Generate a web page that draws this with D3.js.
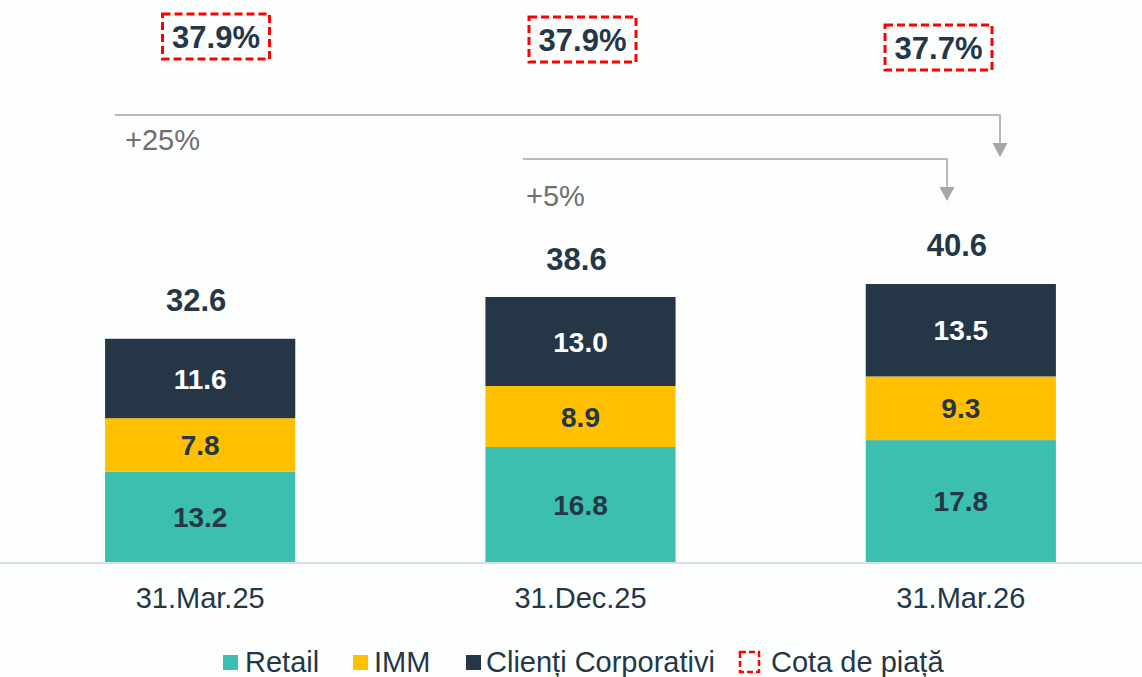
<!DOCTYPE html>
<html>
<head>
<meta charset="utf-8">
<script src="https://cdn.jsdelivr.net/npm/d3@7"></script>
<style>
  body { margin: 0; background: #fcfefe; }
  text { font-family: "Liberation Sans", Arial, sans-serif; }
</style>
</head>
<body>
<div id="chart"></div>
<script>
const categories = ["31.Mar.25", "31.Dec.25", "31.Mar.26"];
const retail = [13.2, 16.8, 17.8];
const imm = [7.8, 8.9, 9.3];
const corporate = [11.6, 13.0, 13.5];
const totals = [32.6, 38.6, 40.6];
const marketShare = ["37.9%", "37.9%", "37.7%"];
const growthLabels = ["+25%", "+5%"];

const seriesNames = ["Retail", "IMM", "Clienți Corporativi"];
const colors = ["#3cbfae", "#ffc000", "#253746"];
const textColors = ["#253746", "#253746", "#ffffff"];

const width = 1142, height = 677;
const baseline = 562;

const svg = d3.select("#chart")
    .append("svg")
    .attr("width", width)
    .attr("height", height);

const x = d3.scaleBand()
    .domain(categories)
    .range([10, 1151])
    .paddingInner(0.5)
    .paddingOuter(0.25);

const y = d3.scaleLinear()
    .domain([0, 40.6])
    .range([baseline, 284]);

// stack the data
const rows = categories.map((c, i) => ({ cat: c, Retail: retail[i], IMM: imm[i], "Clienți Corporativi": corporate[i] }));
const stacked = d3.stack().keys(seriesNames)(rows);

// bars + segment labels
stacked.forEach((layer, li) => {
    const g = svg.append("g");
    g.selectAll("rect")
        .data(layer)
        .enter()
        .append("rect")
        .attr("x", d => x(d.data.cat))
        .attr("y", d => y(d[1]))
        .attr("width", x.bandwidth())
        .attr("height", d => y(d[0]) - y(d[1]))
        .attr("fill", colors[li]);

    g.selectAll("text")
        .data(layer)
        .enter()
        .append("text")
        .attr("x", d => x(d.data.cat) + x.bandwidth() / 2)
        .attr("y", d => (y(d[0]) + y(d[1])) / 2)
        .attr("dy", "0.36em")
        .attr("text-anchor", "middle")
        .attr("font-size", 28)
        .attr("font-weight", "bold")
        .attr("fill", textColors[li])
        .text(d => (d[1] - d[0]).toFixed(1));
});

// totals
svg.selectAll(".total")
    .data(totals)
    .enter()
    .append("text")
    .attr("class", "total")
    .attr("x", (d, i) => x(categories[i]) + x.bandwidth() / 2 - 4)
    .attr("y", d => y(d) - 28)
    .attr("text-anchor", "middle")
    .attr("font-size", 31)
    .attr("font-weight", "bold")
    .attr("fill", "#253746")
    .text(d => d.toFixed(1));

// baseline
svg.append("line")
    .attr("x1", 0).attr("x2", width)
    .attr("y1", baseline + 1).attr("y2", baseline + 1)
    .attr("stroke", "#d6dfe8")
    .attr("stroke-width", 2);

// category axis labels
svg.selectAll(".cat")
    .data(categories)
    .enter()
    .append("text")
    .attr("class", "cat")
    .attr("x", d => x(d) + x.bandwidth() / 2)
    .attr("y", 608)
    .attr("text-anchor", "middle")
    .attr("font-size", 29)
    .attr("fill", "#253746")
    .text(d => d);

// market share boxes
const shareX = [216, 582.5, 938.5];
const shareY = [36.5, 39.5, 47.5];
marketShare.forEach((s, i) => {
    svg.append("rect")
        .attr("x", shareX[i] - 53.5)
        .attr("y", shareY[i] - 22.5)
        .attr("width", 107)
        .attr("height", 45)
        .attr("fill", "none")
        .attr("stroke", "#ff0000")
        .attr("stroke-width", 3)
        .attr("stroke-dasharray", "8,4");
    svg.append("text")
        .attr("x", shareX[i])
        .attr("y", shareY[i])
        .attr("dy", "0.36em")
        .attr("text-anchor", "middle")
        .attr("font-size", 31)
        .attr("font-weight", "bold")
        .attr("fill", "#253746")
        .text(s);
});

// growth arrows
const arrows = [
    { x1: 115, x2: 1000, yTop: 115, yEnd: 157, lx: 125, ly: 150 },
    { x1: 523, x2: 947, yTop: 159, yEnd: 201, lx: 526, ly: 206 }
];
arrows.forEach((a, i) => {
    svg.append("path")
        .attr("d", `M${a.x1},${a.yTop} H${a.x2} V${a.yEnd - 13}`)
        .attr("fill", "none")
        .attr("stroke", "#a6a6a6")
        .attr("stroke-width", 1.6);
    svg.append("path")
        .attr("d", `M${a.x2 - 7.5},${a.yEnd - 14} L${a.x2 + 7.5},${a.yEnd - 14} L${a.x2},${a.yEnd} Z`)
        .attr("fill", "#a6a6a6");
    svg.append("text")
        .attr("x", a.lx)
        .attr("y", a.ly)
        .attr("font-size", 29)
        .attr("fill", "#6f6f6f")
        .text(growthLabels[i]);
});

// legend
const legendItems = [
    { name: "Retail", color: colors[0], x: 223, tx: 245 },
    { name: "IMM", color: colors[1], x: 353, tx: 374 },
    { name: "Clienți Corporativi", color: colors[2], x: 466, tx: 486 },
    { name: "Cota de piață", color: null, x: 740, tx: 771 }
];
legendItems.forEach(d => {
    if (d.color) {
        svg.append("rect")
            .attr("x", d.x).attr("y", 655)
            .attr("width", 15).attr("height", 15)
            .attr("fill", d.color);
    } else {
        svg.append("rect")
            .attr("x", d.x).attr("y", 652)
            .attr("width", 19).attr("height", 20)
            .attr("fill", "none")
            .attr("stroke", "#ff0000")
            .attr("stroke-width", 2.5)
            .attr("stroke-dasharray", "6,3");
    }
    svg.append("text")
        .attr("x", d.tx)
        .attr("y", 672)
        .attr("font-size", 29)
        .attr("fill", "#253746")
        .text(d.name);
});
</script>
</body>
</html>
